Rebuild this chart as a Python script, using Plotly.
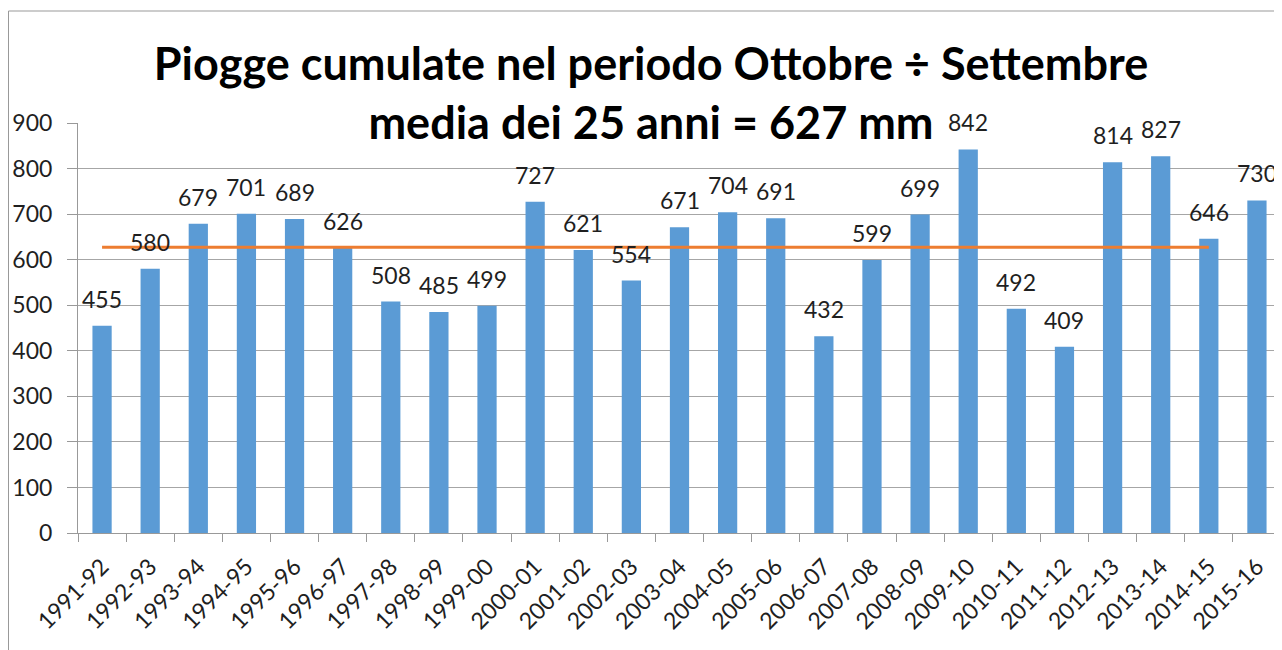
import plotly.graph_objects as go

seasons = ["1991-92","1992-93","1993-94","1994-95","1995-96","1996-97","1997-98","1998-99","1999-00",
           "2000-01","2001-02","2002-03","2003-04","2004-05","2005-06","2006-07","2007-08","2008-09",
           "2009-10","2010-11","2011-12","2012-13","2013-14","2014-15","2015-16"]
rain_mm = [455,580,679,701,689,626,508,485,499,727,621,554,671,704,691,432,599,699,842,492,409,814,827,646,730]
mean_seasons = seasons[:24]
mean_mm = [627]*24
y_ticks = [0,100,200,300,400,500,600,700,800,900]

FONT = "Lato"
TXT = "#1f1f1f"
W, H = 1282, 650
L, R, T, B = 70, 9, 115, 125
pw, ph = W - L - R, H - T - B

fig = go.Figure()
fig.add_trace(go.Bar(x=seasons, y=rain_mm, marker=dict(color="#5B9BD5", line=dict(width=0)),
                     width=0.4, hoverinfo="x+y"))
fig.add_trace(go.Scatter(x=mean_seasons, y=mean_mm, mode="lines",
                         line=dict(color="#ED7D31", width=3)))

for s, v in zip(seasons, rain_mm):
    fig.add_annotation(x=s, y=v, text=str(v), showarrow=False, yanchor="bottom",
                       yshift=11, font=dict(family=FONT, size=23, color=TXT))

fig.add_shape(type="rect", xref="paper", yref="paper",
              x0=(0.5 - L) / pw, x1=1.2, y0=-0.6, y1=1 + (T - 3) / ph,
              line=dict(color="#999999", width=1), fillcolor="rgba(0,0,0,0)", layer="below")

fig.update_layout(
    width=W, height=H,
    margin=dict(l=L, r=R, t=T, b=B, autoexpand=False),
    paper_bgcolor="white", plot_bgcolor="white",
    showlegend=False,
    title=dict(text="<b>Piogge cumulate nel periodo Ottobre ÷ Settembre<br>media dei 25 anni = 627 mm</b>",
               x=643 / W, xref="container", xanchor="center",
               y=1 - 72 / H, yref="container", yanchor="top", automargin=False,
               font=dict(family=FONT, size=45, color="black")),
    font=dict(family=FONT, size=23, color=TXT),
    bargap=0.6,
)
fig.update_xaxes(type="category", tickangle=-45, tickson="boundaries", ticks="outside", ticklen=8,
                 tickcolor="#999999", showline=True, linecolor="#999999", linewidth=1,
                 showgrid=False, tickfont=dict(family=FONT, size=23, color=TXT),
                 range=[-0.5, 24.5], automargin=False, ticklabelstandoff=10)
fig.update_yaxes(range=[0, 900], tickvals=y_ticks, ticks="outside", ticklen=10, tickcolor="#999999",
                 showline=True, linecolor="#999999", linewidth=1, showgrid=True, gridcolor="#a6a6a6",
                 gridwidth=1, zeroline=False, tickfont=dict(family=FONT, size=23, color=TXT),
                 ticklabelstandoff=10, automargin=False)

fig.write_html("out.html")
